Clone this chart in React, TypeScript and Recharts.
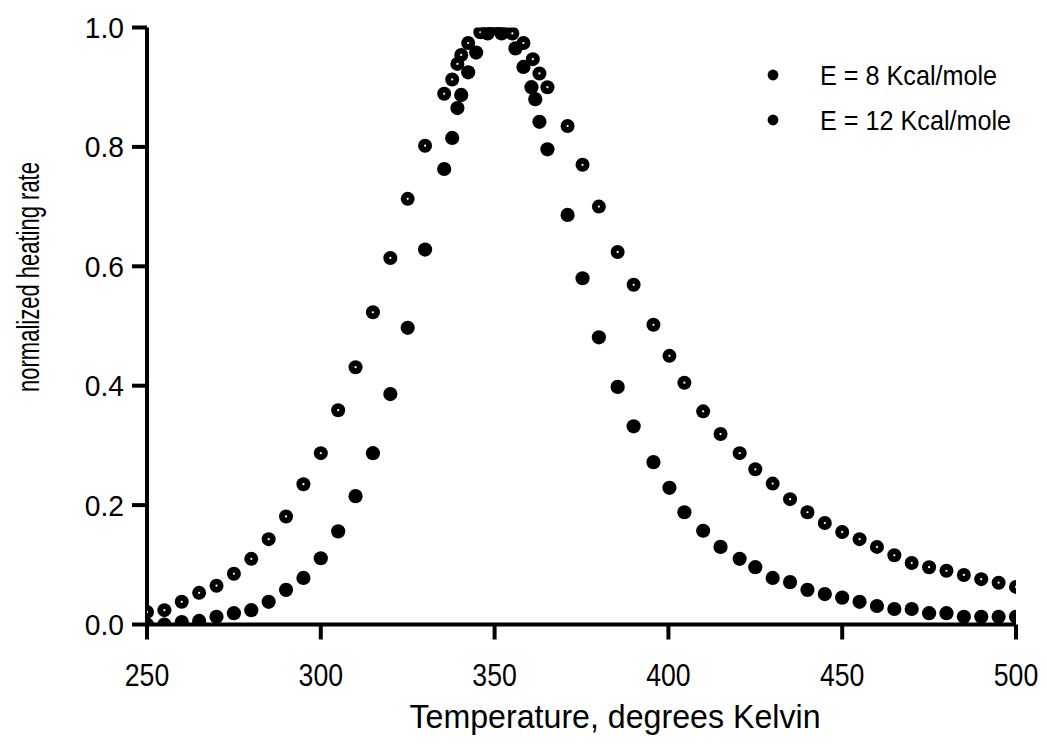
import React from "react";
import { ScatterChart, Scatter, XAxis, YAxis, Legend } from "recharts";

// E = 8 Kcal/mole (broad curve)
const tempE8 = [
  250, 255, 260, 265, 270, 275, 280, 285, 290, 295, 300, 305, 310, 315, 320, 325, 330,
  335.5, 337.8, 339.3, 340.4, 342.4, 345.9, 348, 350, 352, 355.1, 358.3, 361, 362.9, 365.2,
  371, 375.3, 380, 385.4, 390, 395.7, 400.3, 404.6, 410, 415, 420.5, 425, 430, 435, 440,
  445, 450, 455, 460, 465, 470, 475, 480, 485, 490, 495, 500,
];
const rateE8 = [
  0.021, 0.024, 0.038, 0.053, 0.065, 0.085, 0.11, 0.143, 0.181, 0.235, 0.287, 0.359, 0.431, 0.523, 0.614, 0.713, 0.802,
  0.889, 0.913, 0.939, 0.954, 0.974, 0.992, 0.998, 1.0, 0.998, 0.99, 0.974, 0.947, 0.923, 0.9,
  0.835, 0.77, 0.7, 0.624, 0.569, 0.502, 0.45, 0.405, 0.357, 0.319, 0.287, 0.26, 0.236, 0.21, 0.188,
  0.17, 0.155, 0.143, 0.13, 0.116, 0.103, 0.096, 0.09, 0.083, 0.076, 0.07, 0.063,
];

// E = 12 Kcal/mole (narrow curve)
const tempE12 = [
  250, 255, 260, 265, 270, 275, 280, 285, 290, 295, 300, 305, 310, 315, 320, 325, 330,
  335.5, 337.8, 339.3, 340.4, 342.4, 344.7, 348, 350, 352, 356, 358.3, 360.6, 361.7, 362.9, 365.2,
  371, 375.3, 380, 385.4, 390, 395.7, 400.3, 404.6, 410, 415, 420.5, 425, 430, 435, 440,
  445, 450, 455, 460, 465, 470, 475, 480, 485, 490, 495, 500,
];
const rateE12 = [
  0.0, 0.0, 0.004, 0.006, 0.013, 0.019, 0.024, 0.038, 0.058, 0.078, 0.111, 0.156, 0.215, 0.287, 0.386, 0.497, 0.628,
  0.763, 0.815, 0.865, 0.887, 0.925, 0.958, 0.99, 1.0, 0.99, 0.965, 0.934, 0.9, 0.88, 0.842, 0.796,
  0.686, 0.58, 0.481, 0.398, 0.332, 0.272, 0.229, 0.188, 0.157, 0.13, 0.11, 0.096, 0.078, 0.071, 0.058,
  0.051, 0.045, 0.038, 0.031, 0.026, 0.026, 0.019, 0.019, 0.013, 0.013, 0.013, 0.013,
];

const xTicks = [250, 300, 350, 400, 450, 500];
const yTicks = [0, 0.2, 0.4, 0.6, 0.8, 1.0];
const seriesNames = ["E = 8 Kcal/mole", "E = 12 Kcal/mole"];
const xTitle = "Temperature, degrees Kelvin";
const yTitle = "normalized heating rate";

const dataE8 = tempE8.map((t, i) => ({ t, v: rateE8[i] }));
const dataE12 = tempE12.map((t, i) => ({ t, v: rateE12[i] }));

const FONT = "'Liberation Sans', Arial, Helvetica, sans-serif";
const INK = "#000";

const W = 1039;
const H = 738;

const DotE8 = (props: any) => {
  const { cx, cy } = props;
  if (cx == null || cy == null) return null;
  return (
    <g>
      <circle cx={cx} cy={cy} r={7} fill={INK} />
      <circle cx={cx} cy={cy} r={1.1} fill="#fff" />
    </g>
  );
};

const DotE12 = (props: any) => {
  const { cx, cy } = props;
  if (cx == null || cy == null) return null;
  return <circle cx={cx} cy={cy} r={7.1} fill={INK} />;
};

const YTick = (props: any) => {
  const { x, y, payload } = props;
  return (
    <text
      transform={`translate(${x - 6},${y + 10.5}) scale(0.94,1)`}
      textAnchor="end"
      fontFamily={FONT}
      fontSize={30}
      fill={INK}
    >
      {Number(payload.value).toFixed(1)}
    </text>
  );
};

const XTick = (props: any) => {
  const { x, y, payload } = props;
  return (
    <text
      transform={`translate(${x},${y + 44}) scale(0.86,1)`}
      textAnchor="middle"
      fontFamily={FONT}
      fontSize={31}
      fill={INK}
    >
      {payload.value}
    </text>
  );
};

const renderLegend = () => (
  <svg width={280} height={100} style={{ display: "block" }}>
    {seriesNames.map((name, i) => (
      <g key={name}>
        <circle cx={10} cy={17 + i * 45} r={5.4} fill={INK} />
        <text
          transform={`translate(57,${27 + i * 45}) scale(0.9,1)`}
          fontFamily={FONT}
          fontSize={28}
          fill={INK}
        >
          {name}
        </text>
      </g>
    ))}
  </svg>
);

const Titles = () => (
  <g>
    <text
      transform={`translate(607,720) scale(0.96,1)`}
      textAnchor="middle"
      fontFamily={FONT}
      fontSize={33.5}
      fill={INK}
    >
      {xTitle}
    </text>
    <text
      transform={`translate(30.5,269) rotate(-90) scale(0.71,1)`}
      textAnchor="middle"
      fontFamily={FONT}
      fontSize={31}
      fill={INK}
    >
      {yTitle}
    </text>
  </g>
);

export default function App() {
  return (
    <div style={{ width: W, height: H, background: "#fff" }}>
      <ScatterChart
        width={W}
        height={H}
        margin={{ top: 19.5, right: 31, bottom: 61.5, left: 0 }}
      >
        <XAxis
          type="number"
          dataKey="t"
          domain={[250, 500]}
          ticks={xTicks}
          allowDataOverflow
          height={60}
          tickSize={15}
          axisLine={{ stroke: INK, strokeWidth: 4 }}
          tickLine={{ stroke: INK, strokeWidth: 4 }}
          tick={<XTick />}
        />
        <YAxis
          type="number"
          dataKey="v"
          domain={[0, 1]}
          ticks={yTicks}
          allowDataOverflow
          width={139}
          tickSize={15}
          axisLine={{ stroke: INK, strokeWidth: 4 }}
          tickLine={{ stroke: INK, strokeWidth: 4 }}
          tick={<YTick />}
        />
        <Legend
          layout="vertical"
          align="center"
          verticalAlign="middle"
          content={renderLegend}
          wrapperStyle={{ position: "absolute", left: 755, top: 50, width: 280, height: 100 }}
        />
        <Scatter
          name={seriesNames[0]}
          data={dataE8}
          fill={INK}
          shape={<DotE8 />}
          isAnimationActive={false}
        />
        <Scatter
          name={seriesNames[1]}
          data={dataE12}
          fill={INK}
          shape={<DotE12 />}
          isAnimationActive={false}
        />
        <Titles />
      </ScatterChart>
    </div>
  );
}
